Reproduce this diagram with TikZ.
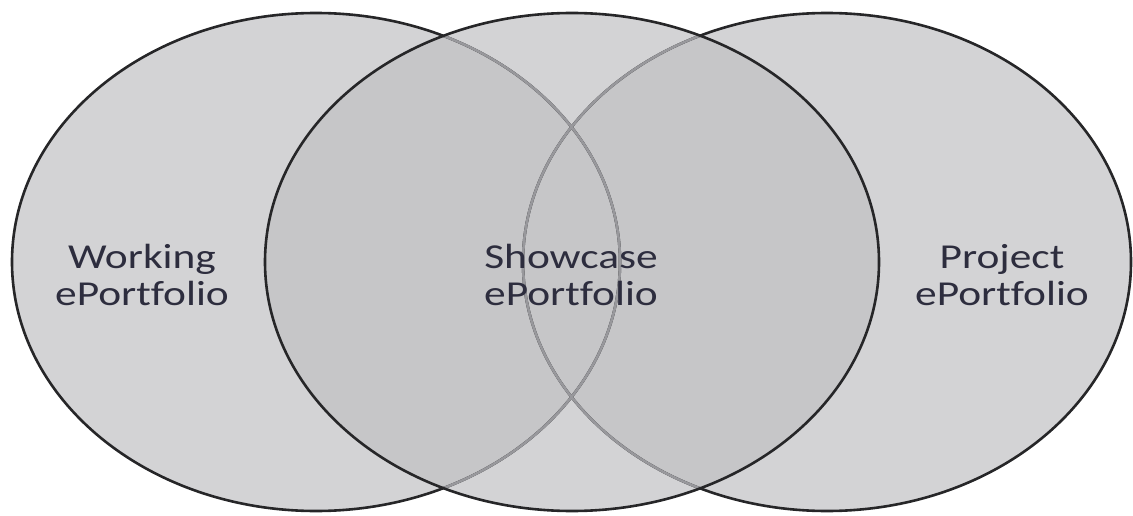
\documentclass[tikz,border=0pt]{standalone}
\usepackage{fontspec}
\newfontfamily\lblfont[FakeStretch=1.24,Ligatures=NoCommon]{Carlito}
\definecolor{lightfill}{RGB}{211,211,213}
\definecolor{darkfill}{RGB}{198,198,200}
\definecolor{outline}{RGB}{38,38,40}
\definecolor{innerline}{RGB}{152,152,156}
\definecolor{labeltext}{RGB}{45,45,62}
\tikzset{
  setline/.style={draw=outline, line width=2.6pt},
  innerset/.style={draw=innerline, line width=2.6pt},
  setlabel/.style={align=center, text=labeltext, inner sep=0pt,
    font=\lblfont\fontsize{35}{37}\selectfont, anchor=base}
}
\begin{document}
\begin{tikzpicture}[x=1pt,y=-1pt]
\useasboundingbox (0,0) rectangle (1133,516);
\def\Lell{(316,262) ellipse [x radius=304, y radius=249]}
\def\Cell{(572,262) ellipse [x radius=307, y radius=249]}
\def\Rell{(827,262) ellipse [x radius=304, y radius=249]}
% fills
\fill[lightfill] \Lell;
\fill[lightfill] \Rell;
\fill[lightfill] \Cell;
\begin{scope}
  \clip \Cell;
  \fill[darkfill] \Lell;
  \fill[darkfill] \Rell;
\end{scope}
% outlines of the outer sets
\path[setline] \Lell;
\path[setline] \Rell;
\begin{scope}
  \clip \Cell;
  \path[innerset] \Lell;
  \path[innerset] \Rell;
\end{scope}
\path[setline] \Cell;
% labels
\node[setlabel] (working) at (142,305) {Working\\ePortfolio};
\node[setlabel] (showcase) at (571,305) {Showcase\\ePortfolio};
\node[setlabel] (project) at (1002,305) {Project\\ePortfolio};
\end{tikzpicture}
\end{document}
